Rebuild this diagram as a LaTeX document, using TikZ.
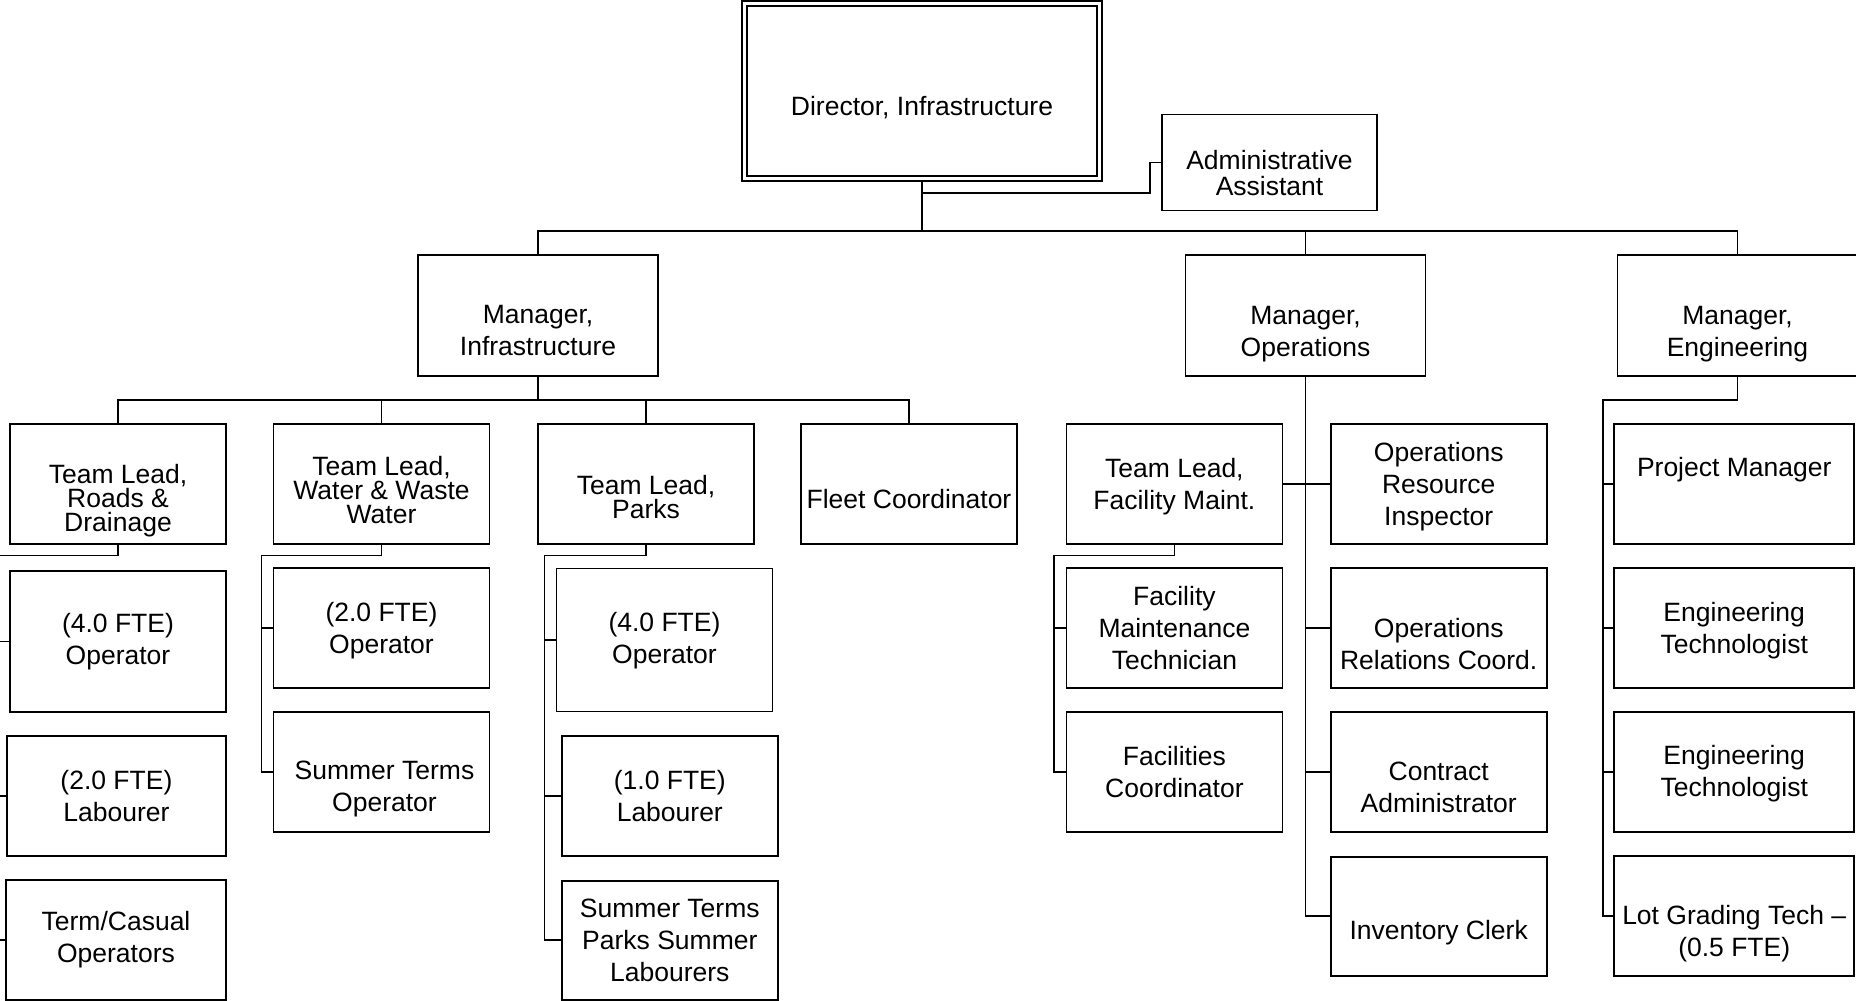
\documentclass[tikz,border=0pt]{standalone}
\usepackage{fontspec}
\setmainfont{Liberation Sans}
\newcommand\tightfont{\fontsize{26.5}{24}\selectfont}
\newcommand\stdfont{\fontsize{26.5}{32}\selectfont}
\newcommand\admfont{\fontsize{26.5}{26}\selectfont}
\begin{document}
\lineskiplimit=-100pt
\begin{tikzpicture}[x=1pt,y=-1pt,
  box/.style={draw, line width=1.8pt, inner sep=0pt, minimum width=216pt, minimum height=120pt},
  lbl/.style={align=center, inner sep=0pt, font=\stdfont},
  tight/.style={align=center, inner sep=0pt, font=\tightfont},
  conn/.style={line width=1.8pt}]
\useasboundingbox (0,0) rectangle (1856,1001);
\fill[white] (0,0) rectangle (1856,1001);

% ---- top level
\node[box, double, double distance=3.5pt, line width=1.6pt, minimum width=355pt, minimum height=175pt,
  label={[lbl,yshift=-16.4pt]center:{Director, Infrastructure}}] (dir) at (922,91) {};
\node[box, minimum width=215pt, minimum height=96pt,
  label={[lbl,font=\admfont,yshift=-11pt]center:{Administrative\\Assistant}}] (adm) at (1269.5,162.5) {};

\node[box, minimum width=240pt, minimum height=121pt,
  label={[lbl,yshift=-15pt]center:{Manager,\\Infrastructure}}] (mi) at (538,315.5) {};
\node[box, minimum width=240pt, minimum height=121pt,
  label={[lbl,yshift=-18.5pt]center:{Manager,\\Operations}}] (mo) at (1305.5,315.5) {};
\node[box, minimum width=240pt, minimum height=121pt,
  label={[lbl,yshift=-18.5pt]center:{Manager,\\Engineering}}] (me) at (1737.5,315.5) {};

% ---- infrastructure leads
\node[box, label={[tight,yshift=-16.5pt]center:{Team Lead,\\Roads \&\\Drainage}}] (roads) at (118,484) {};
\node[box, label={[tight,yshift=-6pt]center:{Team Lead,\\Water \& Waste\\Water}}] (water) at (381.5,484) {};
\node[box, label={[tight,yshift=-13pt]center:{Team Lead,\\Parks}}] (parks) at (646,484) {};
\node[box, label={[lbl,yshift=-15.5pt]center:{Fleet Coordinator}}] (fleet) at (909,484) {};

% roads staff
\node[box, minimum height=141pt, label={[lbl]center:{(4.0 FTE)\\Operator}}] (rop) at (118,641.5) {};
\node[box, minimum width=219pt, label={[lbl]center:{(2.0 FTE)\\Labourer}}] (rlab) at (116.4,796.3) {};
\node[box, minimum width=220pt, label={[lbl]center:{Term/Casual\\Operators}}] (rterm) at (116,939.7) {};

% water staff
\node[box, label={[lbl,yshift=-2.4pt]center:{(2.0 FTE)\\Operator}}] (wop) at (381.5,628) {};
\node[box, label={[lbl,xshift=3pt,yshift=-17pt]center:{Summer Terms\\Operator}}] (wst) at (381.5,772.3) {};

% parks staff
\node[box, minimum height=143pt, label={[lbl,yshift=-1pt]center:{(4.0 FTE)\\Operator}}] (pop) at (664.5,640) {};
\node[box, label={[lbl]center:{(1.0 FTE)\\Labourer}}] (plab) at (669.8,796.3) {};
\node[box, minimum height=119pt, label={[lbl]center:{Summer Terms\\Parks Summer\\Labourers}}] (psl) at (669.8,940.3) {};

% ---- operations
\node[box, label={[lbl,yshift=-2.4pt]center:{Team Lead,\\Facility Maint.}}] (fl) at (1174.4,484) {};
\node[box, label={[lbl]center:{Facility\\Maintenance\\Technician}}] (fmt) at (1174.4,628) {};
\node[box, label={[lbl]center:{Facilities\\Coordinator}}] (fco) at (1174.4,772.3) {};

\node[box, label={[lbl,yshift=-2.4pt]center:{Operations\\Resource\\Inspector}}] (ori) at (1438.7,484) {};
\node[box, label={[lbl,yshift=-16pt]center:{Operations\\Relations Coord.}}] (orc) at (1438.7,628) {};
\node[box, label={[lbl,yshift=-15.5pt]center:{Contract\\Administrator}}] (con) at (1438.7,772.3) {};
\node[box, minimum height=119.4pt, label={[lbl,yshift=-16.5pt]center:{Inventory Clerk}}] (inv) at (1438.7,916.3) {};

% ---- engineering
\node[box, minimum width=240.3pt, label={[lbl,yshift=14.6pt]center:{Project Manager}}] (pm) at (1734.2,484) {};
\node[box, minimum width=240.3pt, label={[lbl,yshift=-2.7pt]center:{Engineering\\Technologist}}] (et1) at (1734.2,628) {};
\node[box, minimum width=240.3pt, label={[lbl,yshift=-1.7pt]center:{Engineering\\Technologist}}] (et2) at (1734.2,772.3) {};
\node[box, minimum width=240.3pt, label={[lbl,yshift=-17pt]center:{Lot Grading Tech --\\(0.5 FTE)}}] (lot) at (1734.2,916.3) {};

% ---- connectors
\coordinate (dd) at ([yshift=-2.5pt]dir.south);
\coordinate (bus1) at (922,231);
\draw[conn] (dd) -- (922,192.7) -| (1150,162.5) -- (adm.west);
\draw[conn] (dd) -- (bus1);
\draw[conn] (mi.north) -- (mi.north |- bus1) -- (me.north |- bus1) -- (me.north);
\draw[conn] (mo.north) -- (mo.north |- bus1);

\coordinate (bus2) at (538,400);
\draw[conn] (mi.south) -- (bus2);
\draw[conn] (roads.north) -- (roads.north |- bus2) -- (fleet.north |- bus2) -- (fleet.north);
\draw[conn] (water.north) -- (water.north |- bus2);
\draw[conn] (parks.north) -- (parks.north |- bus2);

\coordinate (rl) at (-2,555.5);
\draw[conn] (roads.south) -- (roads.south |- rl) -- (rl) -- (rl |- rterm.west) -- (rterm.west);
\draw[conn] (rop.west) -- (rop.west -| rl);
\draw[conn] (rlab.west) -- (rlab.west -| rl);

\coordinate (wl) at (261.5,555.5);
\draw[conn] (water.south) -- (water.south |- wl) -- (wl) -- (wl |- wst.west) -- (wst.west);
\draw[conn] (wop.west) -- (wop.west -| wl);

\coordinate (pl) at (544.5,555.5);
\draw[conn] (parks.south) -- (parks.south |- pl) -- (pl) -- (pl |- psl.west) -- (psl.west);
\draw[conn] (pop.west) -- (pop.west -| pl);
\draw[conn] (plab.west) -- (plab.west -| pl);

\draw[conn] (mo.south) -- (mo.south |- inv.west) -- (inv.west);
\draw[conn] (fl.east) -- (ori.west);
\draw[conn] (orc.west) -- (orc.west -| mo.south);
\draw[conn] (con.west) -- (con.west -| mo.south);

\coordinate (fll) at (1054,555.5);
\draw[conn] (fl.south) -- (fl.south |- fll) -- (fll) -- (fll |- fco.west) -- (fco.west);
\draw[conn] (fmt.west) -- (fmt.west -| fll);

\coordinate (el) at (1602.7,400);
\draw[conn] (me.south) -- (me.south |- el) -- (el) -- (el |- lot.west) -- (lot.west);
\draw[conn] (pm.west) -- (pm.west -| el);
\draw[conn] (et1.west) -- (et1.west -| el);
\draw[conn] (et2.west) -- (et2.west -| el);
\end{tikzpicture}
\end{document}
